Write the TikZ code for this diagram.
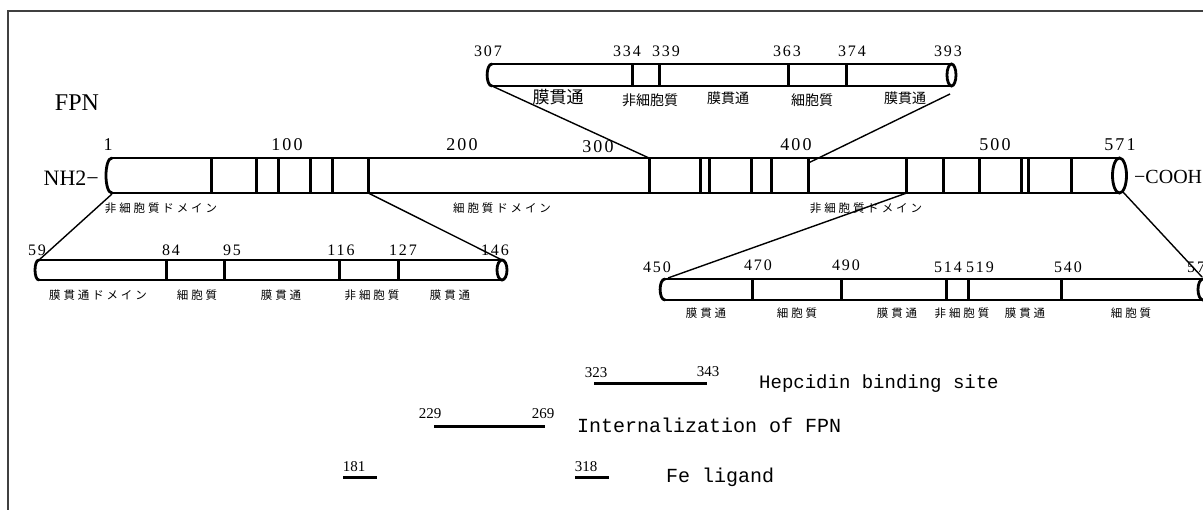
\documentclass[tikz,border=0pt]{standalone}
\usepackage{fontspec}
\setmainfont{Liberation Serif}
\newfontfamily\jp{Noto Sans CJK JP}
\newfontfamily\jpsp[LetterSpace=25]{Noto Sans CJK JP}
\newfontfamily\numsp[LetterSpace=12]{Liberation Serif}
\newfontfamily\monof{Liberation Mono}
\tikzset{
  bar/.style={line width=2.8pt, line cap=round},
  div/.style={line width=3pt},
  conn/.style={line width=1.4pt},
  seg/.style={line width=3pt},
  lab/.style={inner sep=0pt},
  bignum/.style={lab, font=\numsp\fontsize{18}{20}\selectfont},
  midnum/.style={lab, font=\numsp\fontsize{16}{18}\selectfont},
  smallnum/.style={lab, font=\numsp\fontsize{16}{18}\selectfont},
  tinynum/.style={lab, font=\fontsize{15}{17}\selectfont},
  jpA/.style={lab, font=\jp\fontsize{14}{16}\selectfont},
  jpB/.style={lab, font=\jpsp\fontsize{11.5}{14}\selectfont},
  big/.style={lab, font=\fontsize{22}{24}\selectfont},
  mono/.style={lab, anchor=base west, font=\monof\fontsize{20}{22}\selectfont},
}
\begin{document}
\begin{tikzpicture}[x=1pt,y=-1pt]
\useasboundingbox (0,0) rectangle (1203,510);
% frame
\draw[line width=1.5pt, black!75] (8,510) -- (8,11) -- (1203,11);

% ---------- main bar ----------
\draw[bar] (112,158) -- (1119.5,158) (112,193) -- (1119.5,193);
\draw[bar] (112,158) .. controls (104,158) and (104,193) .. (112,193);
\draw[bar] (1119.5,175.5) ellipse [x radius=7, y radius=17.5];
\foreach \x in {211.7,256.7,278.3,310,332.3,368.3,649,700,709,751.7,771.7,808.3,906.7,943.3,979,1021.7,1028.3,1071.7}
  \draw[div] (\x,158) -- (\x,193);
\node[big, font=\fontsize{24}{26}\selectfont] (fpn) at (77,103) {FPN};
\node[big, anchor=east] (nh2) at (99,178) {NH2−};
\node[big, anchor=west, font=\fontsize{20}{22}\selectfont] (cooh) at (1134,177) {−COOH};
\node[bignum] (m1) at (108,145) {1};
\node[bignum] (m100) at (287,145) {100};
\node[bignum] (m200) at (462,145) {200};
\node[bignum] (m300) at (598,147) {300};
\node[bignum] (m400) at (796,145) {400};
\node[bignum] (m500) at (995,145) {500};
\node[bignum] (m571) at (1120,145) {571};
\node[jpB] (d1) at (161,208) {非細胞質ドメイン};
\node[jpB] (d2) at (502,208) {細胞質ドメイン};
\node[jpB] (d3) at (866,208) {非細胞質ドメイン};

% ---------- top inset ----------
\draw[bar] (492,64) -- (951.5,64) (492,86) -- (951.5,86);
\draw[bar] (492,64) .. controls (485.5,64) and (485.5,86) .. (492,86);
\draw[bar] (951.5,75) ellipse [x radius=4.5, y radius=11];
\foreach \x in {632,659,788,846}
  \draw[div] (\x,64) -- (\x,86);
\node[midnum] (t307) at (488,51) {307};
\node[midnum] (t334) at (627,51) {334};
\node[midnum] (t339) at (666,51) {339};
\node[midnum] (t363) at (787,51) {363};
\node[midnum] (t374) at (852,51) {374};
\node[midnum] (t393) at (948,51) {393};
\node[lab, font=\jp\fontsize{17}{19}\selectfont] (tl1) at (558,97) {膜貫通};
\node[jpA] (tl2) at (650,100) {非細胞質};
\node[jpA] (tl3) at (728,98) {膜貫通};
\node[jpA] (tl4) at (812,100) {細胞質};
\node[jpA] (tl5) at (905,98) {膜貫通};

% ---------- bottom-left inset ----------
\draw[bar] (39,260) -- (502,260) (39,280) -- (502,280);
\draw[bar] (39,260) .. controls (33.7,260) and (33.7,280) .. (39,280);
\draw[bar] (502,270) ellipse [x radius=5, y radius=10];
\foreach \x in {166,224,339,398}
  \draw[div] (\x,260) -- (\x,280);
\node[smallnum] (l59) at (37,250) {59};
\node[smallnum] (l84) at (171,250) {84};
\node[smallnum] (l95) at (232,250) {95};
\node[smallnum] (l116) at (341,250) {116};
\node[smallnum] (l127) at (403,250) {127};
\node[smallnum] (l146) at (495,250) {146};
\node[jpB] (ll1) at (98,295) {膜貫通ドメイン};
\node[jpB] (ll2) at (197,295) {細胞質};
\node[jpB] (ll3) at (281,295) {膜貫通};
\node[jpB] (ll4) at (372,295) {非細胞質};
\node[jpB] (ll5) at (450,295) {膜貫通};

% ---------- bottom-right inset ----------
\draw[bar] (665,279) -- (1203,279) (665,300) -- (1203,300);
\draw[bar] (665,279) .. controls (658.5,279) and (658.5,300) .. (665,300);
\draw[bar] (1203,289.5) ellipse [x radius=5, y radius=10.5];
\foreach \x in {752,841,946,968,1061.5}
  \draw[div] (\x,279) -- (\x,300);
\node[smallnum] (r450) at (657,267) {450};
\node[smallnum] (r470) at (758,265) {470};
\node[smallnum] (r490) at (846,265) {490};
\node[smallnum] (r514) at (948,267) {514};
\node[smallnum] (r519) at (980,267) {519};
\node[smallnum] (r540) at (1068,267) {540};
\node[smallnum, anchor=west] (r571) at (1187,267) {571};
\node[jpB] (rl1) at (706,313) {膜貫通};
\node[jpB] (rl2) at (797,313) {細胞質};
\node[jpB] (rl3) at (897,313) {膜貫通};
\node[jpB] (rl4) at (962,313) {非細胞質};
\node[jpB] (rl5) at (1025,313) {膜貫通};
\node[jpB] (rl6) at (1131,313) {細胞質};

% ---------- connectors ----------
\coordinate (cA1) at (112,194); \coordinate (cA2) at (39,260);
\coordinate (cB1) at (368.3,193); \coordinate (cB2) at (502,260);
\coordinate (cC1) at (492,86); \coordinate (cC2) at (649,158);
\coordinate (cD1) at (950,94); \coordinate (cD2) at (808.3,163);
\coordinate (cE1) at (906.7,193); \coordinate (cE2) at (668,278);
\coordinate (cF1) at (1123,192); \coordinate (cF2) at (1202,277);
\draw[conn] (cA1) -- (cA2);
\draw[conn] (cB1) -- (cB2);
\draw[conn] (cC1) -- (cC2);
\draw[conn] (cD1) -- (cD2);
\draw[conn] (cE1) -- (cE2);
\draw[conn] (cF1) -- (cF2);

% ---------- lower features ----------
\coordinate (h1) at (594,384); \coordinate (h2) at (707,384);
\draw[seg] (h1) -- (h2);
\node[tinynum] (n323) at (596,373) {323};
\node[tinynum] (n343) at (708,372) {343};
\node[mono, font=\monof\fontsize{19}{21}\selectfont] (hep) at (759,389) {Hepcidin binding site};

\coordinate (i1) at (434,427); \coordinate (i2) at (545,427);
\draw[seg] (i1) -- (i2);
\node[tinynum] (n229) at (430,414) {229};
\node[tinynum] (n269) at (543,414) {269};
\node[mono] (intz) at (577,433) {Internalization of FPN};

\coordinate (f1) at (343,478); \coordinate (f2) at (377,478);
\coordinate (f3) at (575,478); \coordinate (f4) at (609,478);
\draw[seg] (f1) -- (f2);
\draw[seg] (f3) -- (f4);
\node[tinynum] (n181) at (354,467) {181};
\node[tinynum] (n318) at (586,467) {318};
\node[mono] (fe) at (666,483) {Fe ligand};
\end{tikzpicture}
\end{document}
